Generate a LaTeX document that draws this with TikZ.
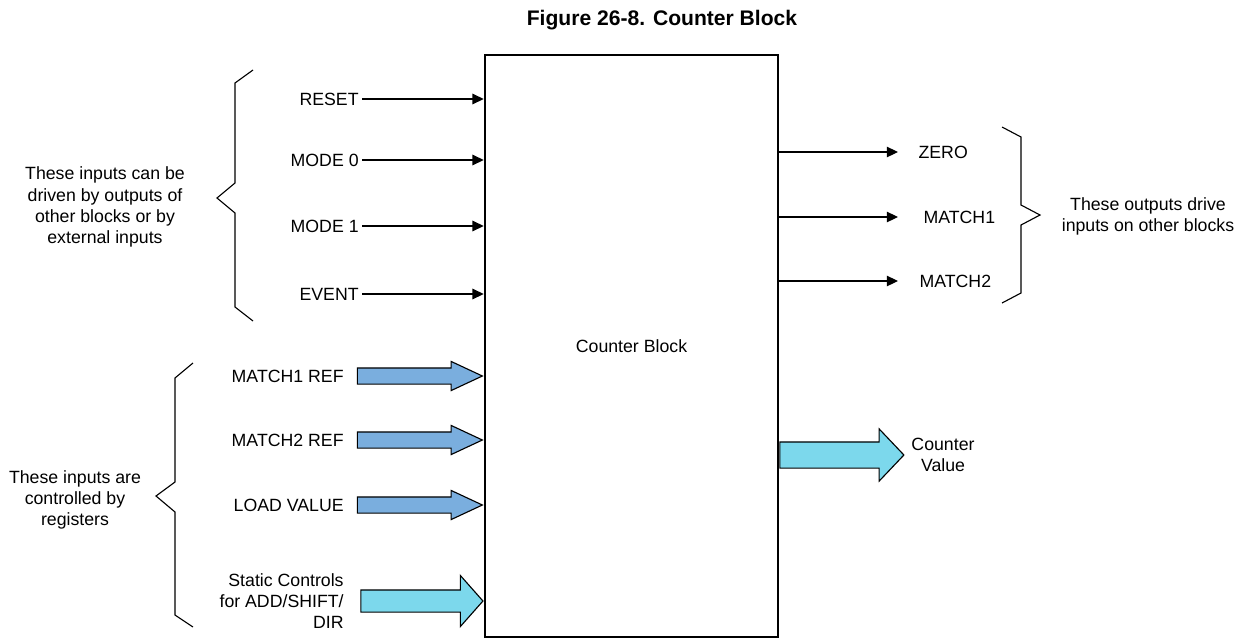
\documentclass[tikz,border=0pt]{standalone}
\usepackage{fontspec}
\setmainfont{Liberation Sans}
\usetikzlibrary{positioning, arrows.meta, shapes.arrows}
\definecolor{busblue}{RGB}{122,174,222}
\definecolor{buscyan}{RGB}{124,216,236}

\begin{document}
\begin{tikzpicture}[x=0.025cm, y=-0.025cm, line width=0.8pt,
    every node/.style={font=\fontsize{12.6}{15}\selectfont},
    inlbl/.style={anchor=east, inner sep=2pt},
    outlbl/.style={anchor=west, inner sep=0pt},
    sig/.style={arrows={-Triangle[width=7.5pt, length=8pt]}},
    busarrow/.style={draw, single arrow, single arrow head indent=0pt, inner xsep=0pt}]
  \useasboundingbox (0,0) rectangle (1247,639);
  \node[font=\bfseries\fontsize{15}{18}\selectfont] at (662,20) (title) {Figure 26-8. Counter Block};

  % Main counter block in the middle
  \node[draw, line width=1.8pt, minimum width=7.325cm, minimum height=14.55cm] at (631.5,346) (blk) {Counter Block};

  % Single line inputs
  \node[inlbl] at (362,99) (reset) {RESET};
  \node[inlbl] at (362,160) (mode0) {MODE 0};
  \node[inlbl] at (362,226) (mode1) {MODE 1};
  \node[inlbl] at (362,294) (event) {EVENT};
  \foreach \n in {reset, mode0, mode1, event}
    \draw[sig] (\n.east) -- (\n -| blk.west);

  % Register inputs
  \node[inlbl] at (347,376) (m1ref) {MATCH1 REF};
  \node[inlbl] at (347,440) (m2ref) {MATCH2 REF};
  \node[inlbl] at (347,505) (ldval) {LOAD VALUE};
  \node[inlbl, align=right] at (347,601) (static) {Static Controls\\for ADD/SHIFT/\\DIR};
  \foreach \n in {m1ref, m2ref, ldval}
    \node[busarrow, fill=busblue, minimum height=3.125cm, inner ysep=0.1875cm, single arrow head extend=0.1625cm, single arrow tip angle=50, anchor=tip] at (\n -| blk.west) (\n arr) {};
  \node[busarrow, fill=buscyan, minimum height=3.05cm, inner ysep=0.2625cm, single arrow head extend=0.3625cm, single arrow tip angle=97, anchor=tip] at (static -| blk.west) (staticarr) {};

  % Outputs
  \coordinate (outend) at (898,0);
  \node[outlbl] at (918,152) (zero) {ZERO};
  \node[outlbl] at (923,217) (match1) {MATCH1};
  \node[outlbl] at (919,281) (match2) {MATCH2};
  \foreach \n in {zero, match1, match2}
    \draw[sig] (\n -| blk.east) -- (\n -| outend);
  \node[align=center] at (943,455) (cval) {Counter\\Value};
  \node[busarrow, fill=buscyan, minimum height=3.1cm, inner ysep=0.3125cm, single arrow head extend=0.325cm, single arrow tip angle=93, anchor=tail] at (cval -| blk.east) (cvalarr) {};

  % Braces and notes
  \draw (253,70) -- (235,83) -- (235,183) -- (217,198) -- (235,213) -- (235,307) -- (253,321);
  \node[align=center] at (105,207) (note1) {These inputs can be\\driven by outputs of\\other blocks or by\\external inputs};
  \draw (193,363) -- (175,378) -- (175,482) -- (156,496) -- (175,512) -- (175,615) -- (193,627);
  \node[align=center] at (75,500) (note2) {These inputs are\\controlled by\\registers};
  \draw (1002,127) -- (1021,137) -- (1021,205) -- (1040,215) -- (1021,225) -- (1021,293) -- (1002,303);
  \node[align=center] at (1148,216) (note3) {These outputs drive\\inputs on other blocks};
\end{tikzpicture}
\end{document}
